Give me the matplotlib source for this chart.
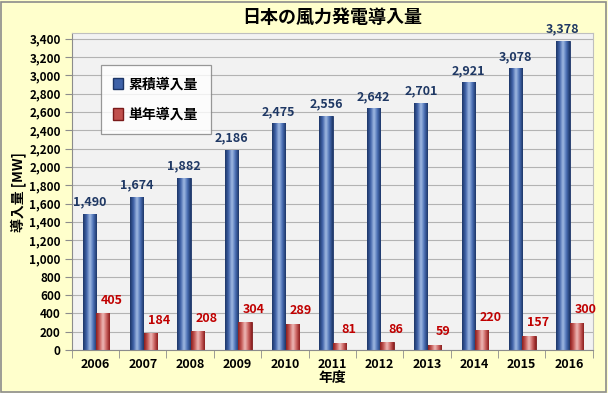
import matplotlib
matplotlib.use('Agg')
import matplotlib.pyplot as plt
import numpy as np
from matplotlib.colors import LinearSegmentedColormap
from matplotlib.patches import Rectangle, Patch

plt.rcParams['font.family'] = ['Noto Sans CJK JP', 'DejaVu Sans']
plt.rcParams['font.weight'] = 'bold'

years = ['2006', '2007', '2008', '2009', '2010', '2011', '2012', '2013', '2014', '2015', '2016']
cumulative = [1490, 1674, 1882, 2186, 2475, 2556, 2642, 2701, 2921, 3078, 3378]
annual = [405, 184, 208, 304, 289, 81, 86, 59, 220, 157, 300]

title = '日本の風力発電導入量'
series_names = ['累積導入量', '単年導入量']
y_label = '導入量 [MW]'
x_label = '年度'

blue_cmap = LinearSegmentedColormap.from_list('b', ['#1c3566', '#3f62a8', '#a3bce4', '#4a6fb5', '#1c3566'])
red_cmap = LinearSegmentedColormap.from_list('r', ['#8a1c1c', '#c65a57', '#efbcba', '#cc6462', '#8a1c1c'])


def gradient_bars(ax, bars, cmap):
    grad = np.linspace(0, 1, 64).reshape(1, -1)
    for b in bars:
        x0, y0 = b.get_x(), b.get_y()
        w, h = b.get_width(), b.get_height()
        im = ax.imshow(grad, cmap=cmap, aspect='auto', extent=(x0, x0 + w, y0, y0 + h),
                       zorder=2.5, interpolation='bicubic')
        im.set_clip_path(b)


fig = plt.figure(figsize=(6.08, 3.93), dpi=100)
fig.patch.set_facecolor('#ffffcc')
fig.patches.append(Rectangle((0.002, 0.003), 0.995, 0.993, transform=fig.transFigure,
                             fill=False, edgecolor='#8c8c8c', linewidth=1.2))

ax = fig.add_axes([0.118, 0.109, 0.857, 0.807])
ax.set_facecolor('#f2f2f2')

x = np.arange(len(years))
w = 0.28
b1 = ax.bar(x - 0.13, cumulative, w, color='#3f62a8', edgecolor='#1c3566', linewidth=0.6, zorder=2)
b2 = ax.bar(x + 0.155, annual, w, color='#c0504d', edgecolor='#7a1a1a', linewidth=0.6, zorder=2)
gradient_bars(ax, b1, blue_cmap)
gradient_bars(ax, b2, red_cmap)

for i in range(len(years)):
    ax.text(x[i] - 0.13, cumulative[i] + 55, format(cumulative[i], ','), ha='center', va='bottom',
            color='#1f3864', fontsize=9, fontweight='bold', zorder=4)
    ax.text(x[i] + 0.34, annual[i] + 70, format(annual[i], ','), ha='center', va='bottom',
            color='#c00000', fontsize=9, fontweight='bold', zorder=4)

ax.set_xlim(-0.5, len(years) - 0.5)
ax.set_ylim(0, 3460)
ax.set_yticks(np.arange(0, 3401, 200))
ax.set_yticklabels([format(v, ',') for v in range(0, 3401, 200)], fontsize=8.5, fontweight='bold')
ax.set_xticks(x)
ax.set_xticklabels(years, fontsize=9, fontweight='bold')
ax.set_xticks(np.arange(-0.5, len(years), 1), minor=True)
ax.tick_params(axis='x', which='major', length=0, pad=6)
ax.tick_params(axis='x', which='minor', length=6, color='#8c8c8c')
ax.tick_params(axis='y', length=5, color='#8c8c8c', pad=3)
ax.grid(axis='y', color='#b3b3b3', linewidth=0.8, zorder=0)
ax.set_axisbelow(True)
for s in ['top', 'right']:
    ax.spines[s].set_color('#bfbfbf')
for s in ['left', 'bottom']:
    ax.spines[s].set_color('#8c8c8c')

ax.set_title(title, fontsize=13, fontweight='bold', pad=7)
ax.set_ylabel(y_label, fontsize=10, fontweight='bold', labelpad=2)
ax.set_xlabel(x_label, fontsize=10, fontweight='bold', labelpad=0)

handles = [Patch(facecolor='#3f62a8', edgecolor='#1c3566'),
           Patch(facecolor='#c0504d', edgecolor='#7a1a1a')]
leg = ax.legend(handles, series_names, loc='upper left', bbox_to_anchor=(0.056, 0.9),
                fontsize=10, frameon=True, fancybox=False, handlelength=0.7, handleheight=0.9,
                handletextpad=0.4, labelspacing=1.2, borderpad=0.9, borderaxespad=0)
leg.get_frame().set_edgecolor('#7f7f7f')
leg.get_frame().set_facecolor('white')
leg.get_frame().set_linewidth(0.9)

fig.savefig('out.png', dpi=100, facecolor=fig.get_facecolor())
